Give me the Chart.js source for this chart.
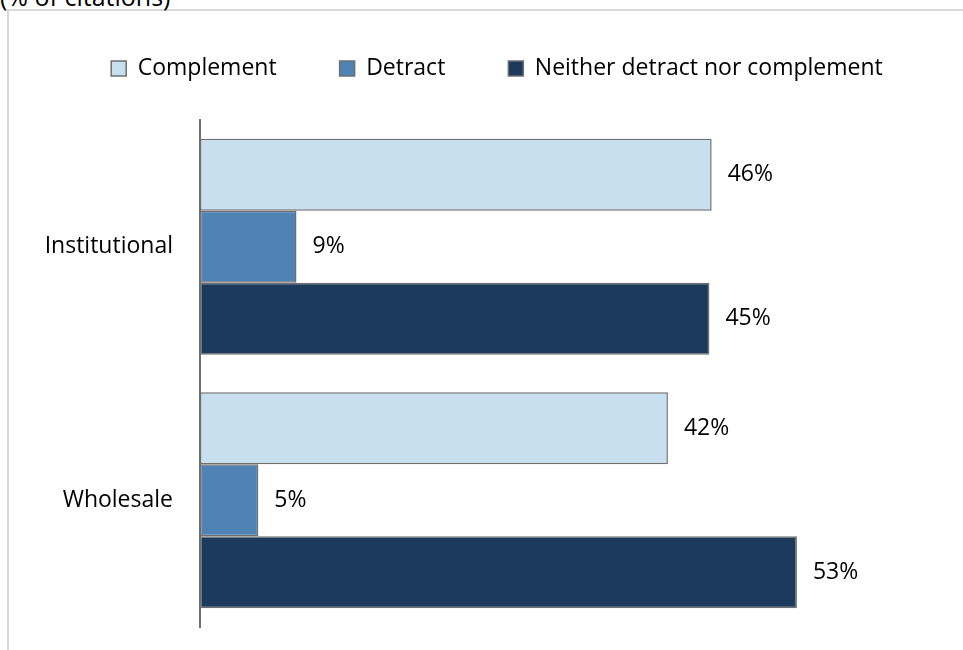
<!DOCTYPE html>
<html>
<head>
<meta charset="utf-8">
<script src="https://cdn.jsdelivr.net/npm/chart.js@4"></script>
<style>
  body { margin: 0; width: 963px; height: 650px; overflow: hidden; background: #fff; position: relative; font-family: "Open Sans", sans-serif; }
  #frame { position: absolute; left: 7px; top: 9px; width: 1000px; height: 700px; border: 2px solid #d9d9d9; }
  #note { position: absolute; left: 0; top: -21px; font-size: 25px; color: #000; white-space: nowrap; }
  #wrap { position: absolute; left: 0; top: 0; width: 963px; height: 650px; }
</style>
</head>
<body>
<div id="frame"></div>
<div id="note">(% of citations)</div>
<div id="wrap"><canvas id="chart" width="963" height="650"></canvas></div>
<script>
const categories = ['Institutional', 'Wholesale'];
const seriesNames = ['Complement', 'Detract', 'Neither detract nor complement'];
const complement = [45.6, 41.7];
const detract = [8.6, 5.2];
const neither = [45.4, 53.2];
const colors = ['#c7dfee', '#4f82b5', '#1b3a5c'];

// value labels at the end of each bar
const valueLabels = {
    id: 'valueLabels',
    afterDatasetsDraw(chart) {
        const ctx = chart.ctx;
        ctx.save();
        ctx.font = '23px "Open Sans", sans-serif';
        ctx.fillStyle = '#000';
        ctx.textAlign = 'left';
        ctx.textBaseline = 'middle';
        chart.data.datasets.forEach((ds, i) => {
            chart.getDatasetMeta(i).data.forEach((bar, j) => {
                ctx.fillText(Math.round(ds.data[j]) + '%', bar.x + 16, bar.y);
            });
        });
        ctx.restore();
    }
};

const ctx = document.getElementById('chart').getContext('2d');
new Chart(ctx, {
    type: 'bar',
    data: {
        labels: categories,
        datasets: [complement, detract, neither].map((values, i) => ({
            label: seriesNames[i],
            data: values,
            backgroundColor: colors[i],
            borderColor: '#6f6f6f',
            borderWidth: 1.5,
            borderSkipped: false,
            barPercentage: 1,
            categoryPercentage: 0.852
        }))
    },
    options: {
        indexAxis: 'y',
        responsive: false,
        animation: false,
        layout: { padding: { top: -6, right: 0, bottom: 23, left: 31 } },
        plugins: {
            tooltip: { enabled: false },
            legend: {
                position: 'top',
                labels: {
                    font: { size: 23, family: '"Open Sans", sans-serif' },
                    color: '#000',
                    boxWidth: 15,
                    boxHeight: 15,
                    padding: 63
                }
            }
        },
        scales: {
            x: {
                position: 'top',
                min: 0,
                max: 68,
                grid: { display: false },
                border: { display: false },
                ticks: { display: false },
                afterFit(scale) { scale.height = 30; }
            },
            y: {
                grid: { display: false, drawTicks: true, tickLength: 22 },
                border: { display: true, color: '#6e6e6e', width: 2 },
                ticks: {
                    color: '#000',
                    padding: 5,
                    font: { size: 23, family: '"Open Sans", sans-serif' }
                },
                afterFit(scale) { scale.width = 169; }
            }
        }
    },
    plugins: [valueLabels]
});
</script>
</body>
</html>
